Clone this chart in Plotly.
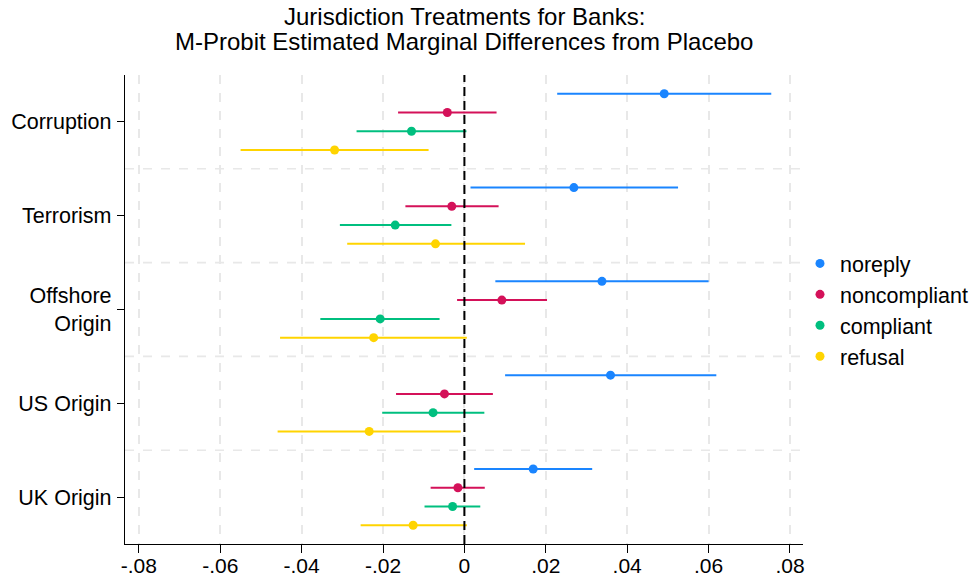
import plotly.graph_objects as go

categories = ["Corruption", "Terrorism", "Offshore<br>Origin", "US Origin", "UK Origin"]
series = ["noreply", "noncompliant", "compliant", "refusal"]
colors = ["#1a85ff", "#d41159", "#00bf7f", "#ffd400"]
title_lines = ["Jurisdiction Treatments for Banks:",
               "M-Probit Estimated Marginal Differences from Placebo"]

# point estimates per series (order of categories)
est = {
    "noreply":      [0.0491, 0.0269, 0.0338, 0.0359, 0.0169],
    "noncompliant": [-0.0042, -0.0031, 0.0092, -0.0049, -0.0016],
    "compliant":    [-0.0130, -0.0170, -0.0207, -0.0077, -0.0029],
    "refusal":      [-0.0319, -0.0071, -0.0223, -0.0234, -0.0126],
}
lo = {
    "noreply":      [0.0228, 0.0015, 0.0076, 0.0100, 0.0024],
    "noncompliant": [-0.0163, -0.0145, -0.0018, -0.0168, -0.0083],
    "compliant":    [-0.0265, -0.0306, -0.0354, -0.0202, -0.0098],
    "refusal":      [-0.0550, -0.0288, -0.0453, -0.0459, -0.0255],
}
hi = {
    "noreply":      [0.0754, 0.0525, 0.0600, 0.0619, 0.0314],
    "noncompliant": [0.0079, 0.0084, 0.0203, 0.0070, 0.0050],
    "compliant":    [0.0005, -0.0032, -0.0061, 0.0049, 0.0039],
    "refusal":      [-0.0088, 0.0149, 0.0006, -0.0009, 0.0006],
}
x_ticks = [-0.08, -0.06, -0.04, -0.02, 0, 0.02, 0.04, 0.06, 0.08]
x_ticktext = ["-.08", "-.06", "-.04", "-.02", "0", ".02", ".04", ".06", ".08"]

step = len(series) + 1
FONT = "Liberation Sans, Arial, Helvetica, sans-serif"
W, H = 976, 581
ML, MR, MT, MB = 125, 173, 75, 37
PH = H - MT - MB

fig = go.Figure()
for s_i, name in enumerate(series):
    ys = [g * step + s_i for g in range(len(categories))]
    e = est[name]
    fig.add_trace(go.Scatter(
        x=e, y=ys, mode="markers", name=name,
        marker=dict(color=colors[s_i], size=9),
        error_x=dict(type="data", symmetric=False,
                     array=[h - v for h, v in zip(hi[name], e)],
                     arrayminus=[v - l for l, v in zip(lo[name], e)],
                     color=colors[s_i], thickness=2, width=0),
    ))

shapes = []
for g in range(len(categories) - 1):
    yv = g * step + len(series)
    shapes.append(dict(type="line", xref="paper", x0=0, x1=1, yref="y", y0=yv, y1=yv,
                       line=dict(color="#e8e8e8", width=1.6, dash="dash"), layer="below"))
shapes.append(dict(type="line", xref="x", x0=0, x1=0, yref="paper", y0=0, y1=1,
                   line=dict(color="black", width=2, dash="9px,5px")))

tickvals_y = [g * step + (len(series) - 1) / 2 for g in range(len(categories))]

annotations = []
for text, py in zip(title_lines, [17.0, 41.5]):
    annotations.append(dict(text=text, xref="paper", yref="paper",
                            x=0.5, xanchor="center", y=1 + (MT - py) / PH, yanchor="middle",
                            showarrow=False, font=dict(size=24, family=FONT, color="black")))

fig.update_layout(
    width=W, height=H,
    paper_bgcolor="white", plot_bgcolor="white",
    font=dict(family=FONT, size=21.5, color="black"),
    margin=dict(l=ML, r=MR, t=MT, b=MB, autoexpand=False),
    xaxis=dict(range=[-0.0834, 0.0832], tickvals=x_ticks, ticktext=x_ticktext,
               automargin=False,
               showgrid=True, gridcolor="#e8e8e8", gridwidth=1.6, griddash="dash",
               zeroline=False, showline=True, linecolor="black", linewidth=1.3,
               ticks="outside", ticklen=8, tickcolor="black", tickwidth=1.3,
               ticklabelstandoff=-5, tickfont=dict(size=21)),
    yaxis=dict(range=[len(categories) * step - 1, -1], tickvals=tickvals_y, ticktext=categories,
               automargin=False,
               showgrid=False, zeroline=False, showline=True, linecolor="black", linewidth=1.3,
               ticks="outside", ticklen=7, tickcolor="black", tickwidth=1.3,
               ticklabelstandoff=1, tickfont=dict(size=21.5)),
    legend=dict(x=(800 - ML) / (W - ML - MR), xanchor="left", y=0.642, yanchor="top",
                font=dict(size=21.5), tracegroupgap=0, itemwidth=30,
                bgcolor="rgba(0,0,0,0)"),
    shapes=shapes,
    annotations=annotations,
    showlegend=True,
)

fig.write_html("out.html", config={"displayModeBar": False},
               post_script="document.body.style.margin='0px';")
